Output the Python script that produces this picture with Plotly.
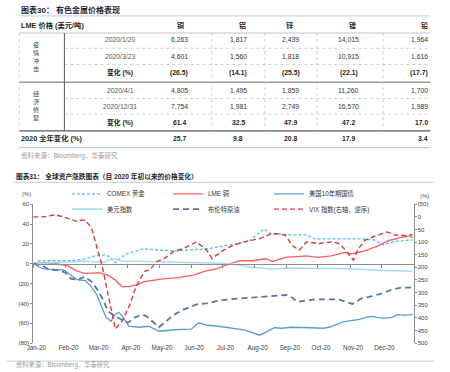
import plotly.graph_objects as go

W, H = 450, 372
FONT = "Liberation Sans, Arial, Noto Sans CJK SC, sans-serif"

# ---------------- table data (图表30) ----------------
metals = ["铜", "铝", "锌", "镍", "铅"]
row_labels = ["2020/1/20", "2020/3/23", "变化 (%)", "2020/4/1", "2020/12/31", "变化 (%)"]
price_jan20 = [6263, 1817, 2439, 14015, 1964]
price_mar23 = [4601, 1560, 1818, 10915, 1616]
chg_shock = [-26.5, -14.1, -25.5, -22.1, -17.7]
price_apr1 = [4805, 1495, 1859, 11260, 1700]
price_dec31 = [7754, 1981, 2749, 16570, 1989]
chg_recovery = [61.4, 32.5, 47.9, 47.2, 17.0]
chg_2020 = [25.7, 9.8, 20.8, 17.9, 3.4]
group_labels = ["疫情冲击", "经济修复"]

# ---------------- chart data (图表31) ----------------
month_ticks = ["2020-01-01", "2020-02-01", "2020-03-01", "2020-04-01", "2020-05-01", "2020-06-01",
               "2020-07-01", "2020-08-01", "2020-09-01", "2020-10-01", "2020-11-01", "2020-12-01"]
month_labels = ["Jan-20", "Feb-20", "Mar-20", "Apr-20", "May-20", "Jun-20",
                "Jul-20", "Aug-20", "Sep-20", "Oct-20", "Nov-20", "Dec-20"]
left_ticks = [-80, -60, -40, -20, 0, 20, 40, 60]
left_labels = ["(80)", "(60)", "(40)", "(20)", "0", "20", "40", "60"]
right_ticks = [-50, 0, 50, 100, 150, 200, 250, 300, 350, 400, 450, 500]
right_labels = ["(50)", "0", "50", "100", "150", "200", "250", "300", "350", "400", "450", "500"]

gold_dates = ["2020-01-01", "2020-01-07", "2020-01-23", "2020-02-08", "2020-02-20", "2020-03-01", "2020-03-10",
              "2020-03-15", "2020-03-20", "2020-03-24", "2020-03-31", "2020-04-06", "2020-04-16", "2020-04-27",
              "2020-05-16", "2020-06-01", "2020-06-16", "2020-07-02", "2020-07-15", "2020-07-27", "2020-08-06",
              "2020-08-10", "2020-08-17", "2020-08-25", "2020-09-06", "2020-09-19", "2020-09-28", "2020-10-11",
              "2020-10-24", "2020-11-02", "2020-11-11", "2020-11-24", "2020-12-02", "2020-12-10", "2020-12-19",
              "2020-12-31"]
gold_vals = [0, 3, 3, 3, 5, 8, 9, 7, 1, 5, 10, 12, 15, 14, 13, 14, 15, 18, 20, 23, 32, 35, 30, 30, 29, 29,
             25, 25, 25.5, 25, 25, 24, 19, 21.5, 23, 24]

copper_dates = ["2020-01-01", "2020-01-14", "2020-01-23", "2020-02-03", "2020-02-11", "2020-02-20", "2020-03-04",
                "2020-03-13", "2020-03-20", "2020-03-26", "2020-04-01", "2020-04-09", "2020-04-17", "2020-05-03",
                "2020-05-19", "2020-06-03", "2020-06-13", "2020-06-26", "2020-07-08", "2020-07-18", "2020-07-30",
                "2020-08-12", "2020-08-18", "2020-08-31", "2020-09-20", "2020-10-01", "2020-10-14", "2020-10-27",
                "2020-11-02", "2020-11-15", "2020-11-28", "2020-12-07", "2020-12-20", "2020-12-29", "2020-12-31"]
copper_vals = [0, 1, 0, -2, -7, -10, -9, -11.5, -16.5, -23, -23, -21.5, -18, -15.5, -14, -11.5, -8, -5, 0, 3,
               3, 5, 2.5, 6.5, 8, 6.5, 8, 11.5, 10, 13, 18, 23, 26.5, 28, 26]

us10y_dates = ["2020-01-01", "2020-01-10", "2020-01-23", "2020-01-30", "2020-02-03", "2020-02-07", "2020-02-12",
               "2020-02-20", "2020-02-25", "2020-03-02", "2020-03-06", "2020-03-11", "2020-03-16", "2020-03-19",
               "2020-03-23", "2020-03-27", "2020-04-02", "2020-04-12", "2020-04-21", "2020-05-01", "2020-05-16",
               "2020-06-01", "2020-06-08", "2020-06-17", "2020-06-27", "2020-07-08", "2020-07-23", "2020-08-06",
               "2020-08-14", "2020-08-20", "2020-08-27", "2020-09-05", "2020-09-24", "2020-10-06", "2020-10-12",
               "2020-10-19", "2020-10-25", "2020-11-03", "2020-11-10", "2020-11-16", "2020-11-22", "2020-11-27",
               "2020-12-03", "2020-12-11", "2020-12-17", "2020-12-24", "2020-12-31"]
us10y_vals = [0, -5, -6.5, -6, -9, -12, -16, -17, -22, -31, -41, -54, -58, -52, -49, -53, -63, -64, -63, -68,
              -66.5, -66, -59.5, -62, -63, -64.5, -67, -72, -68, -64.5, -65, -64, -64.5, -65, -64, -61, -58.5,
              -57, -56, -54, -53, -54, -55, -54, -51, -52, -51]

dollar_dates = ["2020-01-01", "2020-01-20", "2020-02-03", "2020-02-20", "2020-03-09", "2020-03-15", "2020-03-20",
                "2020-03-26", "2020-04-20", "2020-05-15", "2020-06-10", "2020-07-01", "2020-07-15", "2020-07-28",
                "2020-08-10", "2020-08-18", "2020-08-31", "2020-10-01", "2020-11-02", "2020-11-28", "2020-12-18",
                "2020-12-31"]
dollar_vals = [0, 1, 1.5, 2.5, 1.5, 4, 5, 2.5, 2.3, 2, 1, 0.5, -1, -3.3, -4.3, -5.6, -4.3, -4.3, -5, -6.6,
               -7.6, -7.6]

brent_dates = ["2020-01-01", "2020-01-10", "2020-01-15", "2020-01-27", "2020-02-01", "2020-02-06", "2020-02-13",
               "2020-02-19", "2020-02-26", "2020-03-03", "2020-03-08", "2020-03-13", "2020-03-20", "2020-03-26",
               "2020-04-01", "2020-04-07", "2020-04-15", "2020-04-19", "2020-04-27", "2020-05-01", "2020-05-06",
               "2020-05-16", "2020-05-25", "2020-06-06", "2020-06-16", "2020-06-28", "2020-07-17", "2020-08-05",
               "2020-08-21", "2020-09-01", "2020-09-06", "2020-09-11", "2020-09-19", "2020-09-28", "2020-10-21",
               "2020-10-31", "2020-11-03", "2020-11-12", "2020-11-21", "2020-12-03", "2020-12-10", "2020-12-20",
               "2020-12-31"]
brent_vals = [0, -2, -5, -7, -9, -15, -16.5, -13, -18, -26.5, -36, -48, -53, -56, -59.5, -54.5, -51, -53, -60,
              -64, -59.5, -51, -46, -41, -40, -37, -35, -33.5, -32, -31.5, -34, -38.5, -37, -36, -36, -39.5,
              -40.5, -35, -33, -29.5, -26.5, -24, -24]

vix_dates = ["2020-01-01", "2020-01-11", "2020-01-22", "2020-01-30", "2020-02-11", "2020-02-20", "2020-02-26",
             "2020-03-07", "2020-03-20", "2020-03-27", "2020-04-03", "2020-04-09", "2020-04-17", "2020-04-22",
             "2020-04-29", "2020-05-06", "2020-05-15", "2020-05-25", "2020-06-06", "2020-06-16", "2020-06-21",
             "2020-07-02", "2020-07-11", "2020-07-22", "2020-08-06", "2020-08-17", "2020-08-25", "2020-08-31",
             "2020-09-06", "2020-09-13", "2020-09-20", "2020-10-01", "2020-10-14", "2020-10-22", "2020-10-30",
             "2020-11-04", "2020-11-08", "2020-11-15", "2020-11-26", "2020-12-07", "2020-12-13", "2020-12-23",
             "2020-12-31"]
vix_vals = [0, 0, -8, 0, 17, 12, 45, 190, 444, 410, 347, 275, 216, 210, 177, 165, 138, 125, 99, 132, 165, 132,
            113, 99, 86, 67, 67, 74, 113, 132, 99, 106, 99, 106, 145, 171, 132, 93, 74, 60, 71, 74, 71]


def px(x):
    return x / W


def py(y):
    return 1 - y / H


def fmt_price(v):
    return f"{v:,}"


def fmt_pct(v):
    return f"({abs(v):.1f})" if v < 0 else f"{v:.1f}"


fig = go.Figure()

# ---------------- chart traces ----------------
fig.add_trace(go.Scatter(x=gold_dates, y=gold_vals, name="COMEX 黄金", mode="lines",
                         line=dict(color="#4cbff0", width=1.3, dash="3px,2px"), legend="legend"))
fig.add_trace(go.Scatter(x=copper_dates, y=copper_vals, name="LME 铜", mode="lines",
                         line=dict(color="#ff5f5f", width=1.3), legend="legend"))
fig.add_trace(go.Scatter(x=us10y_dates, y=us10y_vals, name="美国10年期国债", mode="lines",
                         line=dict(color="#5b9bd5", width=1.3), legend="legend"))
fig.add_trace(go.Scatter(x=dollar_dates, y=dollar_vals, name="美元指数", mode="lines",
                         line=dict(color="#a9dcf3", width=1.6), legend="legend2"))
fig.add_trace(go.Scatter(x=brent_dates, y=brent_vals, name="布伦特原油", mode="lines",
                         line=dict(color="#5677a3", width=1.8, dash="6px,4px"), legend="legend2"))
fig.add_trace(go.Scatter(x=vix_dates, y=vix_vals, name="VIX 指数(右轴，逆序)", mode="lines", yaxis="y2",
                         line=dict(color="#d63a3a", width=1.4, dash="5px,3px"), legend="legend2"))
# empty trace so the zero-line axis (x2) gets drawn
fig.add_trace(go.Scatter(x=[], y=[], xaxis="x2", yaxis="y", showlegend=False, hoverinfo="skip"))

xdom = [px(26.7), px(413)]
ydom = [py(345.7), py(204.5)]
axis_col = "#8c8c8c"
tick_font = dict(family=FONT, size=6, color="#404040")

fig.update_layout(
    width=W, height=H, margin=dict(l=0, r=0, t=0, b=0),
    paper_bgcolor="white", plot_bgcolor="white",
    font=dict(family=FONT, size=7, color="#333"),
    showlegend=True,
    xaxis=dict(domain=xdom, type="date", range=["2020-01-01", "2021-01-01"], anchor="y",
               tickmode="array", tickvals=month_ticks, ticktext=month_labels, ticklabelshift=3,
               showline=False, ticks="", showgrid=False, zeroline=False,
               tickfont=dict(family=FONT, size=6.3, color="#404040")),
    xaxis2=dict(domain=xdom, type="date", range=["2020-01-01", "2021-01-01"], overlaying="x",
                anchor="free", position=py(265.0), tickmode="array", tickvals=month_ticks,
                showticklabels=False, showline=True, linecolor=axis_col, linewidth=1,
                ticks="outside", ticklen=3, tickcolor=axis_col, showgrid=False, zeroline=False),
    yaxis=dict(domain=ydom, range=[-80, 60], anchor="x", tickmode="array", tickvals=left_ticks,
               ticktext=left_labels, showline=True, linecolor=axis_col, linewidth=1, ticks="outside",
               ticklen=2, tickcolor=axis_col, showgrid=False, zeroline=False, tickfont=tick_font),
    yaxis2=dict(domain=ydom, range=[500, -50], overlaying="y", side="right", anchor="x",
                tickmode="array", tickvals=right_ticks, ticktext=right_labels, showline=True,
                linecolor=axis_col, linewidth=1, ticks="outside", ticklen=2, tickcolor=axis_col,
                showgrid=False, zeroline=False, tickfont=tick_font),
    legend=dict(orientation="h", x=px(61), xanchor="left", y=py(194), yanchor="middle",
                entrywidth=56, entrywidthmode="pixels", itemwidth=30,
                font=dict(family=FONT, size=6.3, color="#333"), bgcolor="rgba(0,0,0,0)"),
    legend2=dict(orientation="h", x=px(61), xanchor="left", y=py(209.5), yanchor="middle",
                 entrywidth=56, entrywidthmode="pixels", itemwidth=30,
                 font=dict(family=FONT, size=6.3, color="#333"), bgcolor="rgba(0,0,0,0)"),
)

annotations = []
shapes = []


def text(x, y, s, size=7, color="#333", bold=False, anchor="center", family=FONT):
    if bold:
        s = f"<b>{s}</b>"
    annotations.append(dict(x=px(x), y=py(y), xref="paper", yref="paper", text=s, showarrow=False,
                            xanchor=anchor, yanchor="middle",
                            font=dict(family=family, size=size, color=color)))


def hline(y, x0, x1, color, width=1, dash="solid"):
    shapes.append(dict(type="line", xref="paper", yref="paper", x0=px(x0), x1=px(x1), y0=py(y), y1=py(y),
                       line=dict(color=color, width=width, dash=dash)))


def vline(x, y0, y1, color, width=1, dash="solid"):
    shapes.append(dict(type="line", xref="paper", yref="paper", x0=px(x), x1=px(x), y0=py(y0), y1=py(y1),
                       line=dict(color=color, width=width, dash=dash)))


# ---------------- table (图表30) ----------------
text(12.5, 7.5, "图表30： 有色金属价格表现", size=8, color="#1f1f1f", bold=True, anchor="left")
hline(13, 12.5, 430, "#c9d7e8", 1.2)
text(12.5, 22.5, "LME 价格 (美元/吨)", size=7.3, color="#1f1f1f", bold=True, anchor="left")

header_x = [176, 239, 287, 351, 430]
value_x = [175, 235, 288, 347, 430]
for i, m in enumerate(metals):
    text(header_x[i], 22.5, m, size=7, color="#1f1f1f", bold=True, anchor="right" if i == 4 else "center")

row_y = [37.5, 54, 71, 89, 105, 121.5]
table_rows = [price_jan20, price_mar23, chg_shock, price_apr1, price_dec31, chg_recovery]
pct_rows = [False, False, True, False, False, True]
for r, lab in enumerate(row_labels):
    text(115, row_y[r], lab, size=6.8, color="#555" if not pct_rows[r] else "#222", bold=pct_rows[r])
    for c in range(5):
        v = table_rows[r][c]
        s = fmt_pct(v) if pct_rows[r] else fmt_price(v)
        text(value_x[c], row_y[r], s, size=6.8, color="#333" if not pct_rows[r] else "#1f1f1f",
             bold=pct_rows[r], anchor="right" if c == 4 else "center")

# vertical group labels
text(29.5, 55, "<br>".join(group_labels[0]), size=6.2, color="#444")
text(29.5, 104.5, "<br>".join(group_labels[1]), size=6.2, color="#444")

# 2020 full-year row
text(12.5, 138, "2020 全年变化 (%)", size=7.3, color="#1f1f1f", bold=True, anchor="left")
for c in range(5):
    text(value_x[c], 138, fmt_pct(chg_2020[c]), size=6.8, color="#1f1f1f", bold=True,
         anchor="right" if c == 4 else "center")

# table lines
hline(30.5, 12.5, 430, "#b5b5b5", 0.8)
for yy in (46, 62.5, 97, 113):
    hline(yy, 58.3, 430, "#c4c4c4", 0.8, "dot")
hline(80.5, 12.5, 430, "#9a9a9a", 1.6)
hline(130, 12.5, 430, "#5a5a5a", 1.2)
hline(147, 12.5, 430, "#b9cde5", 1.3)
vline(12.5, 30.5, 130, "#c4c4c4", 0.8, "dot")
vline(58.3, 30.5, 130, "#5a5a5a", 1)
for xx in (208, 262, 315, 382):
    vline(xx, 30.5, 130, "#c4c4c4", 0.8, "dot")

text(12, 154.5, "资料来源：Bloomberg，华泰研究", size=6.5, color="#9a9a9a", anchor="left")

# ---------------- chart decorations (图表31) ----------------
text(7, 176.5, "图表31： 全球资产涨跌图表（自 2020 年初以来的价格变化）", size=6.7, color="#1f1f1f",
     bold=True, anchor="left")
hline(182.3, 7, 434, "#c9d7e8", 1.2)
text(13, 194, "(%)", size=6, color="#555", anchor="left")
text(418, 196, "(%)", size=6, color="#555", anchor="left")
hline(364, 0, 434, "#c9d7e8", 1.2)
text(7, 367.5, "资料来源：Bloomberg，华泰研究", size=6.3, color="#9a9a9a", anchor="left")

fig.update_layout(annotations=annotations, shapes=shapes)
fig.write_html("out.html", config={"displayModeBar": False},
               post_script="document.body.style.margin='0';")
